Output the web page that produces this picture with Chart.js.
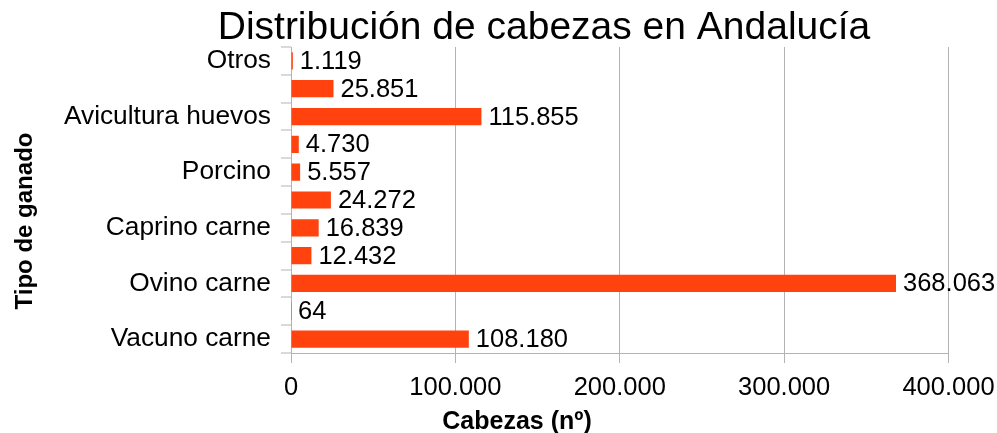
<!DOCTYPE html>
<html>
<head>
<meta charset="utf-8">
<script src="https://cdn.jsdelivr.net/npm/chart.js@4"></script>
<style>
  body { margin: 0; background: #ffffff; }
</style>
</head>
<body>
<canvas id="ganadoChart" width="997" height="433"></canvas>
<script>
// datos (de abajo a arriba)
const tiposGanado = ['Vacuno carne', 'Vacuno leche', 'Ovino carne', 'Ovino leche', 'Caprino carne',
    'Caprino leche', 'Porcino', 'Equino', 'Avicultura huevos', 'Avicultura carne', 'Otros'];
const cabezas = [108180, 64, 368063, 12432, 16839, 24272, 5557, 4730, 115855, 25851, 1119];
const ejeX = { min: 0, max: 400000, step: 100000 };
const tituloGrafico = 'Distribución de cabezas en Andalucía';
const tituloEjeX = 'Cabezas (nº)';
const tituloEjeY = 'Tipo de ganado';

const fuente = 'Liberation Sans';
const gris = '#b3b3b3';

function formatoMiles(v) {
    return String(v).replace(/\B(?=(\d{3})+(?!\d))/g, '.');
}

// etiquetas de valor al final de cada barra
const valoresPlugin = {
    id: 'valores',
    afterDatasetsDraw(chart) {
        const ctx = chart.ctx;
        const meta = chart.getDatasetMeta(0);
        ctx.save();
        ctx.font = '25.5px "' + fuente + '"';
        ctx.fillStyle = '#000000';
        ctx.textAlign = 'left';
        ctx.textBaseline = 'middle';
        meta.data.forEach((bar, i) => {
            ctx.fillText(formatoMiles(cabezas[i]), bar.x + 7, bar.y + 1);
        });
        ctx.restore();
    }
};

// títulos colocados como en el original
const titulosPlugin = {
    id: 'titulos',
    afterDraw(chart) {
        const ctx = chart.ctx;
        ctx.save();
        ctx.fillStyle = '#000000';
        ctx.textAlign = 'center';
        ctx.textBaseline = 'alphabetic';
        ctx.font = '39px "' + fuente + '"';
        ctx.fillText(tituloGrafico, 544, 39);
        ctx.font = 'bold 25px "' + fuente + '"';
        ctx.fillText(tituloEjeX, 517, 429);
        ctx.font = 'bold 24px "' + fuente + '"';
        ctx.translate(32, 221);
        ctx.rotate(-Math.PI / 2);
        ctx.fillText(tituloEjeY, 0, 0);
        ctx.restore();
    }
};

const ctxGanado = document.getElementById('ganadoChart').getContext('2d');
const ganadoChart = new Chart(ctxGanado, {
    type: 'bar',
    data: {
        labels: tiposGanado,
        datasets: [{
            label: 'Cabezas',
            data: cabezas,
            backgroundColor: '#ff420e',
            barPercentage: 0.62,
            categoryPercentage: 1
        }]
    },
    options: {
        indexAxis: 'y',
        responsive: false,
        animation: false,
        layout: {
            padding: { top: 47, right: 0, bottom: 0, left: 0 }
        },
        plugins: {
            legend: { display: false },
            tooltip: { enabled: false }
        },
        scales: {
            x: {
                min: ejeX.min,
                max: ejeX.max,
                afterFit: s => { s.height = 80; s.paddingRight = 48.5; },
                border: { color: gris },
                grid: { color: gris, tickLength: 10 },
                ticks: {
                    stepSize: ejeX.step,
                    padding: 10,
                    color: '#000000',
                    font: { family: fuente, size: 25.5 },
                    callback: v => formatoMiles(v)
                }
            },
            y: {
                reverse: true,
                offset: true,
                afterFit: s => { s.width = 291; },
                border: { color: gris },
                grid: {
                    offset: true,
                    color: gris,
                    tickLength: 10,
                    tickWidth: 1,
                    tickColor: gris,
                    lineWidth: c => c.index === tiposGanado.length ? 1 : 0
                },
                ticks: {
                    autoSkip: false,
                    padding: 10,
                    color: '#000000',
                    font: { family: fuente, size: 26.3 },
                    callback: (v, i) => i % 2 === 0 ? tiposGanado[i] : ''
                }
            }
        }
    },
    plugins: [valoresPlugin, titulosPlugin]
});
</script>
</body>
</html>
